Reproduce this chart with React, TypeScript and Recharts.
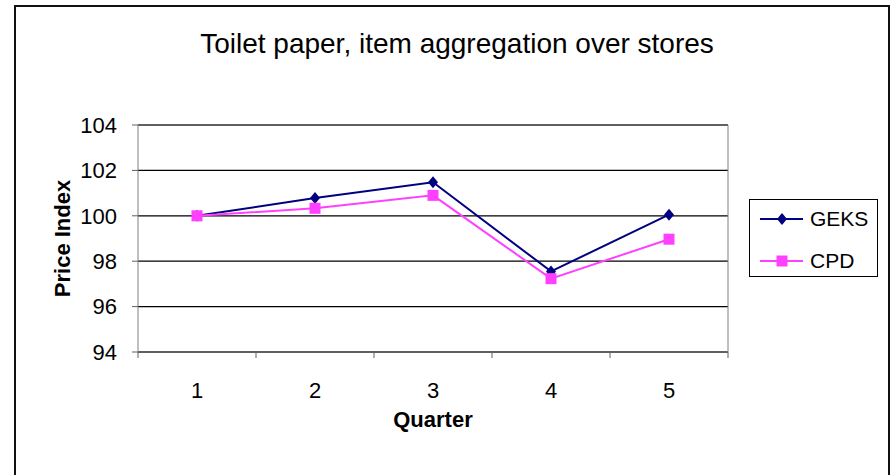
import React from 'react';
import {
  LineChart,
  Line,
  XAxis,
  YAxis,
  CartesianGrid,
  ReferenceLine,
  Legend,
} from 'recharts';

// Chart values
const quarters = [1, 2, 3, 4, 5];
const geks = [100, 100.78, 101.48, 97.55, 100.05];
const cpd = [100, 100.33, 100.9, 97.23, 98.97];
const yTicks = [94, 96, 98, 100, 102, 104];
const quarterEdges = [0.5, 1.5, 2.5, 3.5, 4.5, 5.5];
const seriesNames = ['GEKS', 'CPD'];

const NAVY = '#000080';
const PINK = '#ff40ff';
const FONT = '"Liberation Sans", Arial, sans-serif';

const data = quarters.map((q, i) => ({ quarter: q, GEKS: geks[i], CPD: cpd[i] }));

const Diamond = (props: any) => {
  const { cx, cy, index } = props;
  if (cx == null || cy == null) return null;
  return (
    <path
      key={`d-${index}`}
      d={`M${cx},${cy - 6}L${cx + 5},${cy}L${cx},${cy + 6}L${cx - 5},${cy}Z`}
      fill={NAVY}
    />
  );
};

const Square = (props: any) => {
  const { cx, cy, index } = props;
  if (cx == null || cy == null) return null;
  return <rect key={`s-${index}`} x={cx - 5.5} y={cy - 5.5} width={11} height={11} fill={PINK} />;
};

const LegendBox = () => (
  <svg width={129} height={78} style={{ display: 'block' }}>
    <rect x={0.5} y={0.5} width={128} height={77} fill="#fff" stroke="#000" />
    <line x1={11} x2={54} y1={20} y2={20} stroke={NAVY} strokeWidth={2} />
    <path d="M33,14L38,20L33,26L28,20Z" fill={NAVY} />
    <text x={61} y={27} fontFamily={FONT} fontSize={21} fill="#000">
      {seriesNames[0]}
    </text>
    <line x1={11} x2={54} y1={62} y2={62} stroke={PINK} strokeWidth={2} />
    <rect x={27.5} y={56.5} width={11} height={11} fill={PINK} />
    <text x={61} y={69} fontFamily={FONT} fontSize={21} fill="#000">
      {seriesNames[1]}
    </text>
  </svg>
);

export default function App() {
  return (
    <div
      style={{
        position: 'fixed',
        left: 0,
        top: 0,
        width: 896,
        height: 475,
        background: '#fff',
        overflow: 'hidden',
      }}
    >
      {/* outer frame */}
      <div
        style={{
          position: 'absolute',
          left: 14,
          top: 5,
          width: 872,
          height: 490,
          border: '2px solid #111',
        }}
      />
      <div
        style={{
          position: 'absolute',
          left: 457,
          top: 30,
          transform: 'translateX(-50%)',
          whiteSpace: 'nowrap',
          fontFamily: FONT,
          fontSize: 28,
          lineHeight: 1,
          color: '#000',
        }}
      >
        Toilet paper, item aggregation over stores
      </div>
      <LineChart
        width={896}
        height={475}
        data={data}
        margin={{ top: 125, right: 168, bottom: 0, left: 0 }}
        style={{ position: 'absolute', left: 0, top: 0 }}
      >
        <CartesianGrid vertical={false} stroke="#000" strokeWidth={1.3} strokeOpacity={1} />
        {/* tick marks sit between the quarters, like the original */}
        <XAxis
          dataKey="quarter"
          type="number"
          domain={[0.5, 5.5]}
          ticks={quarterEdges}
          tick={() => <g />}
          height={6}
          tickSize={6}
          axisLine={{ stroke: '#808080' }}
          tickLine={{ stroke: '#606060' }}
        />
        <XAxis
          xAxisId="q"
          dataKey="quarter"
          type="number"
          domain={[0.5, 5.5]}
          ticks={quarters}
          height={117}
          axisLine={false}
          tickLine={false}
          tickSize={0}
          tickMargin={24}
          tick={{ fill: '#000', fontSize: 22, fontFamily: FONT }}
          label={{
            content: ({ viewBox }: any) => (
              <text
                x={viewBox.x + viewBox.width / 2}
                y={viewBox.y + 69}
                textAnchor="middle"
                fontFamily={FONT}
                fontSize={22}
                fontWeight="bold"
                fill="#000"
              >
                Quarter
              </text>
            ),
          }}
        />
        <YAxis
          domain={[94, 104]}
          ticks={yTicks}
          width={138}
          tickSize={6}
          tickMargin={15}
          axisLine={{ stroke: '#808080' }}
          tickLine={{ stroke: '#606060' }}
          tick={{ fill: '#000', fontSize: 22, fontFamily: FONT }}
          label={{
            content: ({ viewBox }: any) => {
              const cy = viewBox.y + viewBox.height / 2;
              return (
                <text
                  x={62}
                  y={cy}
                  transform={`rotate(-90, 62, ${cy})`}
                  textAnchor="middle"
                  dominantBaseline="central"
                  fontFamily={FONT}
                  fontSize={22}
                  fontWeight="bold"
                  fill="#000"
                >
                  Price Index
                </text>
              );
            },
          }}
        />
        <ReferenceLine y={104} stroke="#808080" />
        <ReferenceLine x={5.5} stroke="#808080" />
        <Legend
          layout="vertical"
          align="center"
          verticalAlign="middle"
          content={() => <LegendBox />}
          wrapperStyle={{ left: 749, top: 199, width: 129, height: 78 }}
        />
        <Line
          xAxisId="q"
          dataKey="GEKS"
          stroke={NAVY}
          strokeWidth={2}
          dot={Diamond}
          activeDot={false}
          isAnimationActive={false}
        />
        <Line
          xAxisId="q"
          dataKey="CPD"
          stroke={PINK}
          strokeWidth={2}
          dot={Square}
          activeDot={false}
          isAnimationActive={false}
        />
      </LineChart>
    </div>
  );
}
